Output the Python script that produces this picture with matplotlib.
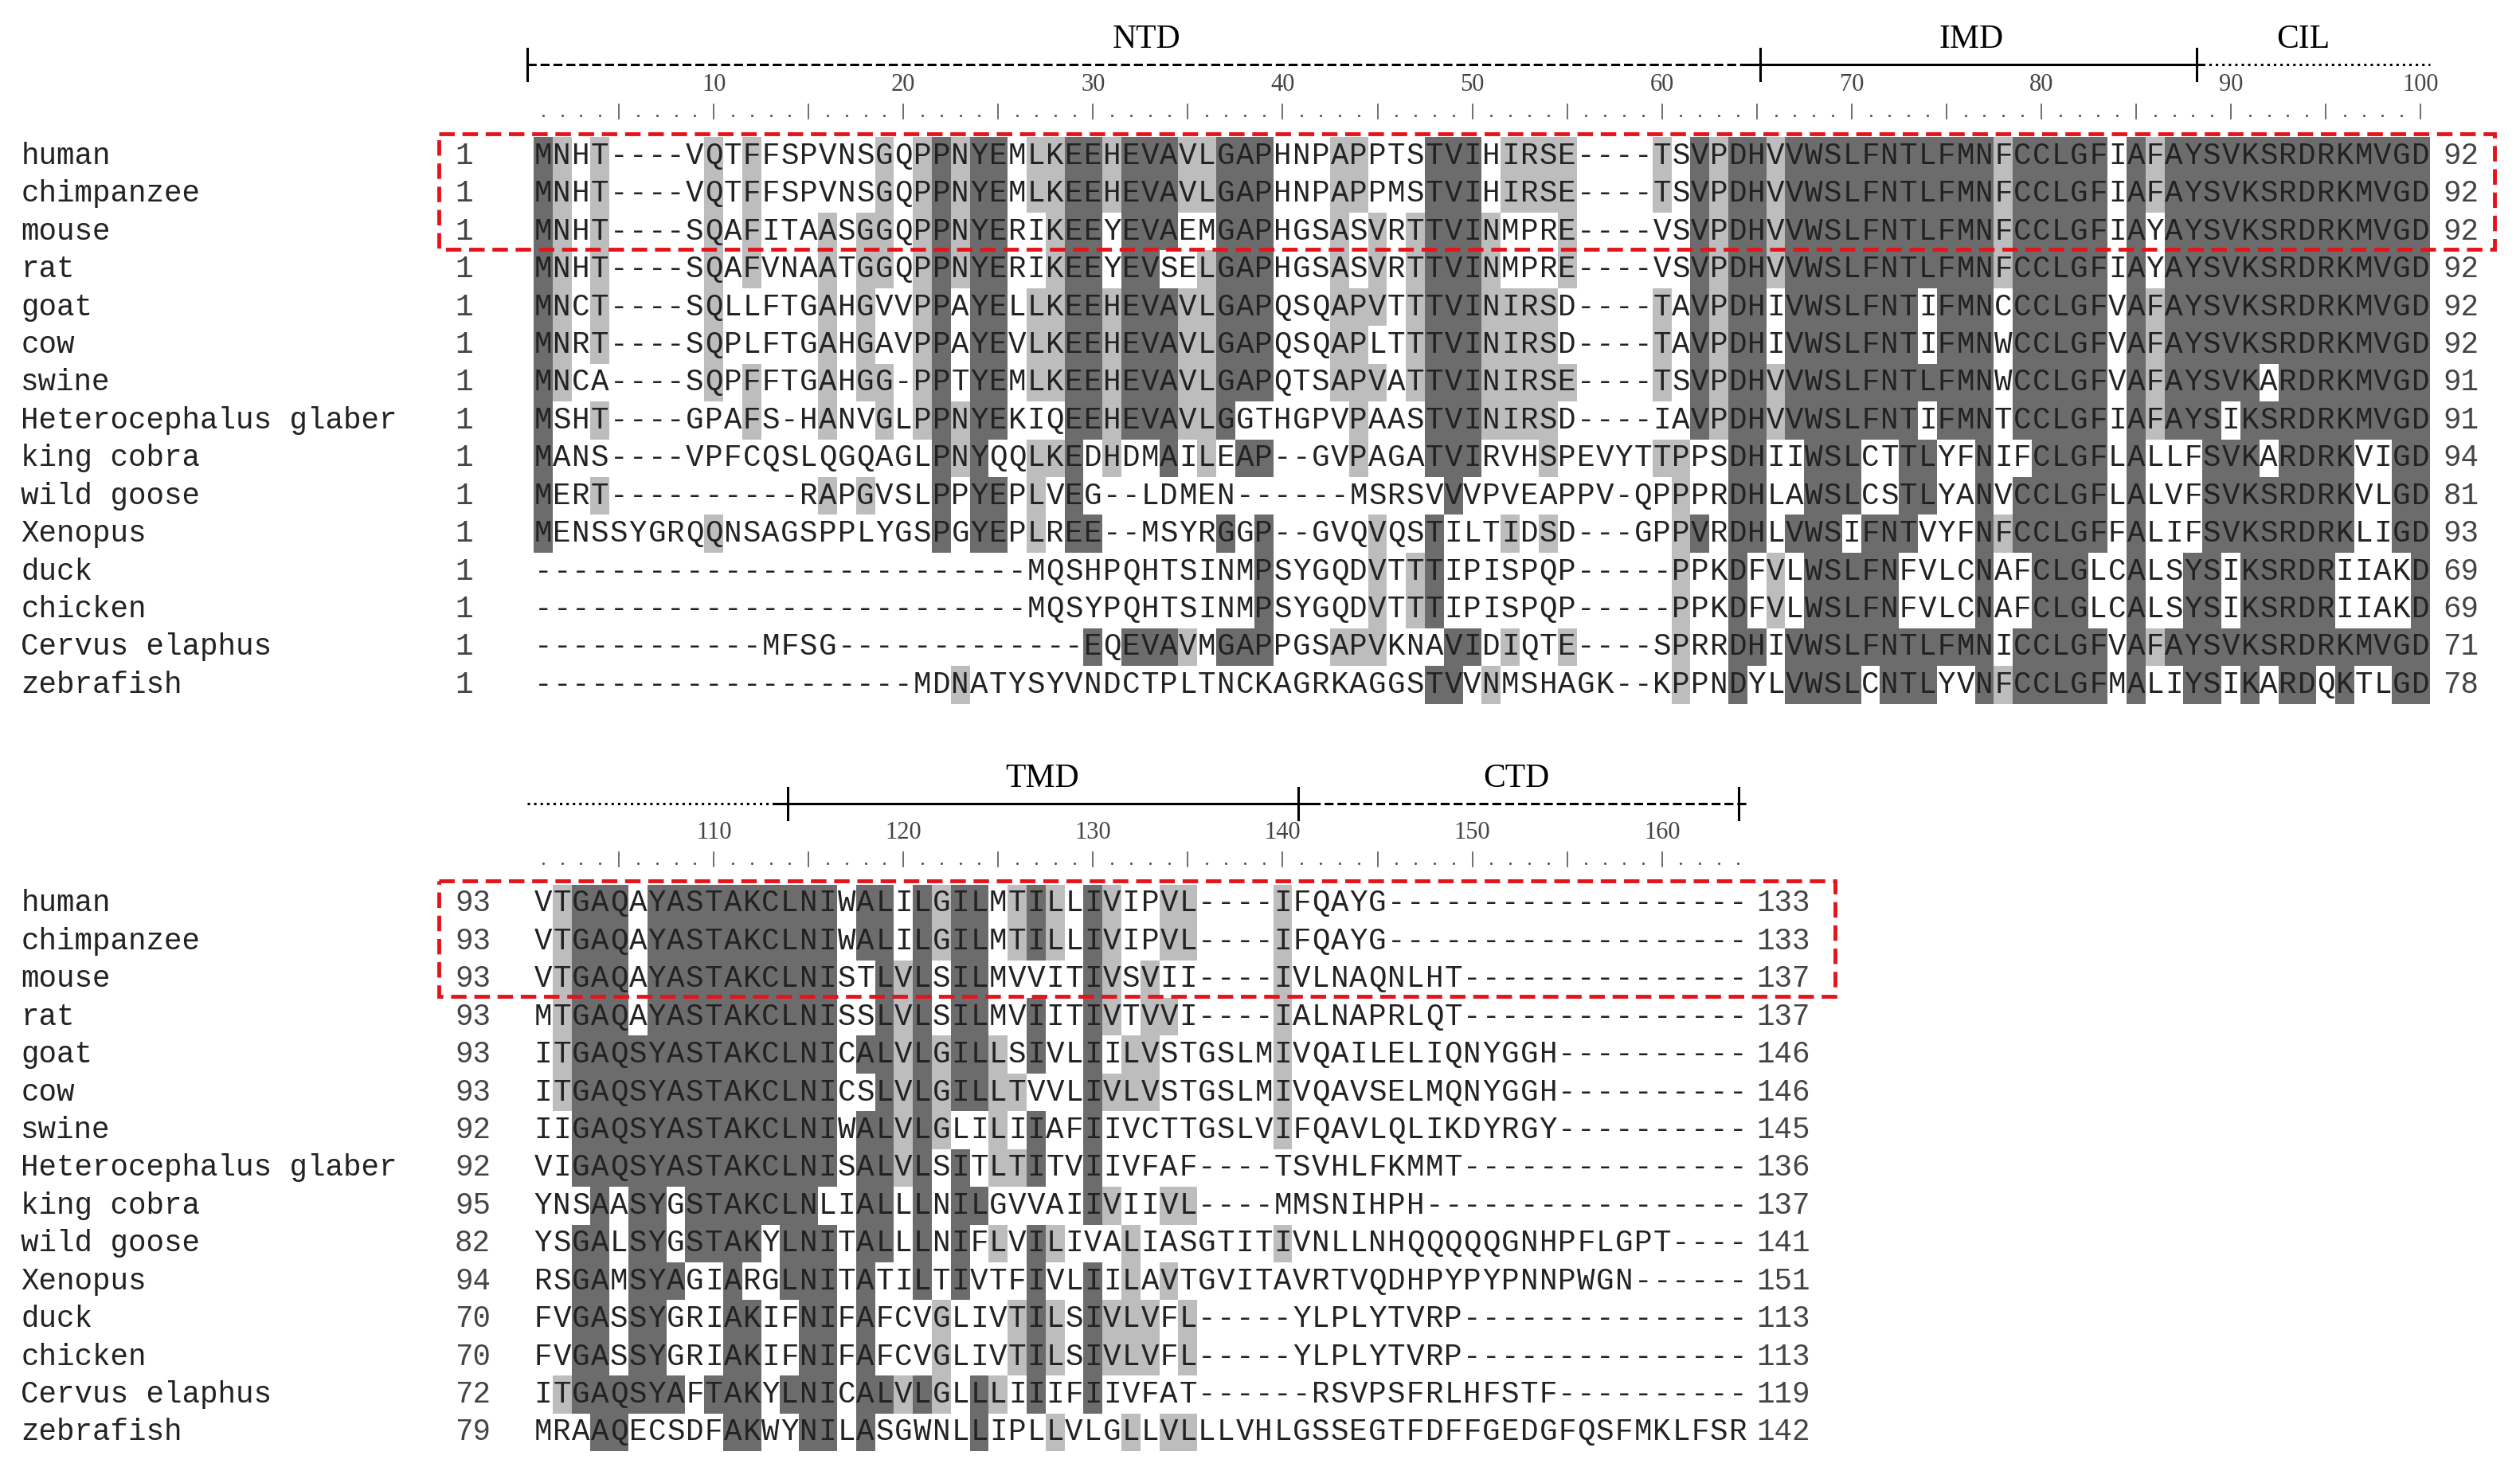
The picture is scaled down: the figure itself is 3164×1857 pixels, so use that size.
import matplotlib
matplotlib.use("Agg")
import matplotlib.pyplot as plt
from matplotlib.patches import Rectangle
from collections import Counter

species = ["human", "chimpanzee", "mouse", "rat", "goat", "cow", "swine",
           "Heterocephalus glaber", "king cobra", "wild goose", "Xenopus",
           "duck", "chicken", "Cervus elaphus", "zebrafish"]

seq_top = [
 "MNHT----VQTFFSPVNSGQPPNYEMLKEEHEVAVLGAPHNPAPPTSTVIHIRSE----TSVPDHVVWSLFNTLFMNFCCLGFIAFAYSVKSRDRKMVGD",
 "MNHT----VQTFFSPVNSGQPPNYEMLKEEHEVAVLGAPHNPAPPMSTVIHIRSE----TSVPDHVVWSLFNTLFMNFCCLGFIAFAYSVKSRDRKMVGD",
 "MNHT----SQAFITAASGGQPPNYERIKEEYEVAEMGAPHGSASVRTTVINMPRE----VSVPDHVVWSLFNTLFMNFCCLGFIAYAYSVKSRDRKMVGD",
 "MNHT----SQAFVNAATGGQPPNYERIKEEYEVSELGAPHGSASVRTTVINMPRE----VSVPDHVVWSLFNTLFMNFCCLGFIAYAYSVKSRDRKMVGD",
 "MNCT----SQLLFTGAHGVVPPAYELLKEEHEVAVLGAPQSQAPVTTTVINIRSD----TAVPDHIVWSLFNTIFMNCCCLGFVAFAYSVKSRDRKMVGD",
 "MNRT----SQPLFTGAHGAVPPAYEVLKEEHEVAVLGAPQSQAPLTTTVINIRSD----TAVPDHIVWSLFNTIFMNWCCLGFVAFAYSVKSRDRKMVGD",
 "MNCA----SQPFFTGAHGG-PPTYEMLKEEHEVAVLGAPQTSAPVATTVINIRSE----TSVPDHVVWSLFNTLFMNWCCLGFVAFAYSVKARDRKMVGD",
 "MSHT----GPAFS-HANVGLPPNYEKIQEEHEVAVLGGTHGPVPAASTVINIRSD----IAVPDHVVWSLFNTIFMNTCCLGFIAFAYSIKSRDRKMVGD",
 "MANS----VPFCQSLQGQAGLPNYQQLKEDHDMAILEAP--GVPAGATVIRVHSPEVYTTPPSDHIIWSLCTTLYFNIFCLGFLALLFSVKARDRKVIGD",
 "MERT----------RAPGVSLPPYEPLVEG--LDMEN------MSRSVVVPVEAPPV-QPPPRDHLAWSLCSTLYANVCCLGFLALVFSVKSRDRKVLGD",
 "MENSSYGRQQNSAGSPPLYGSPGYEPLREE--MSYRGGP--GVQVQSTILTIDSD---GPPVRDHLVWSIFNTVYFNFCCLGFFALIFSVKSRDRKLIGD",
 "--------------------------MQSHPQHTSINMPSYGQDVTTTIPISPQP-----PPKDFVLWSLFNFVLCNAFCLGLCALSYSIKSRDRIIAKD",
 "--------------------------MQSYPQHTSINMPSYGQDVTTTIPISPQP-----PPKDFVLWSLFNFVLCNAFCLGLCALSYSIKSRDRIIAKD",
 "------------MFSG-------------EQEVAVMGAPPGSAPVKNAVIDIQTE----SPRRDHIVWSLFNTLFMNICCLGFVAFAYSVKSRDRKMVGD",
 "--------------------MDNATYSYVNDCTPLTNCKAGRKAGGSTVVNMSHAGK--KPPNDYLVWSLCNTLYVNFCCLGFMALIYSIKARDQKTLGD",
]
seq_bot = [
 "VTGAQAYASTAKCLNIWALILGILMTILLIVIPVL----IFQAYG-------------------",
 "VTGAQAYASTAKCLNIWALILGILMTILLIVIPVL----IFQAYG-------------------",
 "VTGAQAYASTAKCLNISTLVLSILMVVITIVSVII----IVLNAQNLHT---------------",
 "MTGAQAYASTAKCLNISSLVLSILMVIITIVTVVI----IALNAPRLQT---------------",
 "ITGAQSYASTAKCLNICALVLGILLSIVLIILVSTGSLMIVQAILELIQNYGGH----------",
 "ITGAQSYASTAKCLNICSLVLGILLTVVLIVLVSTGSLMIVQAVSELMQNYGGH----------",
 "IIGAQSYASTAKCLNIWALVLGLILIIAFIIVCTTGSLVIFQAVLQLIKDYRGY----------",
 "VIGAQSYASTAKCLNISALVLSITLTITVIIVFAF----TSVHLFKMMT---------------",
 "YNSAASYGSTAKCLNLIALLLNILGVVAIIVIIVL----MMSNIHPH-----------------",
 "YSGALSYGSTAKYLNITALLLNIFLVILIVALIASGTITIVNLLNHQQQQQGNHPFLGPT----",
 "RSGAMSYAGIARGLNITATILTIVTFIVLIILAVTGVITAVRTVQDHPYPYPNNPWGN------",
 "FVGASSYGRIAKIFNIFAFCVGLIVTILSIVLVFL-----YLPLYTVRP---------------",
 "FVGASSYGRIAKIFNIFAFCVGLIVTILSIVLVFL-----YLPLYTVRP---------------",
 "ITGAQSYAFTAKYLNICALVLGLLLIIIFIIVFAT------RSVPSFRLHFSTF----------",
 "MRAAQECSDFAKWYNILASGWNLLIPLLVLGLLVLLLVHLGSSEGTFDFFGEDGFQSFMKLFSR",
]
start_top = ["1"] * 15
end_top = ["92", "92", "92", "92", "92", "92", "91", "91", "94", "81", "93", "69", "69", "71", "78"]
start_bot = ["93", "93", "93", "93", "93", "93", "92", "92", "95", "82", "94", "70", "70", "72", "79"]
end_bot = ["133", "133", "137", "137", "146", "146", "145", "136", "137", "141", "151", "113", "113", "119", "142"]
ruler_top = [10, 20, 30, 40, 50, 60, 70, 80, 90, 100]
ruler_bot = [110, 120, 130, 140, 150, 160]
domains_top = [("NTD", 1, 65, "dashed"), ("IMD", 65, 88, "solid"), ("CIL", 88, 100, "dotted")]
domains_bot = [("", 101, 114, "dotted"), ("TMD", 114, 141, "solid"), ("CTD", 141, 164, "dashed")]

W, H = 1568, 920
fig = plt.figure(figsize=(31.64, 18.57), dpi=100)
ax = fig.add_axes([0, 0, 1, 1])
ax.set_xlim(0, W); ax.set_ylim(H, 0); ax.axis("off")

X0, CW, RH = 332.0, 11.8, 23.5
MONO = "Liberation Mono"
FS = 27
DARK, LIGHT = "#6c6c6c", "#bdbdbd"

def colx(c):
    return X0 + (c - 0.5) * CW

def block(seqs, y0, starts, ends, end_x):
    n = len(seqs[0])
    for c in range(n):
        col = [s[c] for s in seqs]
        res = [r for r in col if r != "-"]
        if not res:
            continue
        top, cnt = Counter(res).most_common(1)[0]
        frac = cnt / len(seqs)
        for i, r in enumerate(col):
            if r == top and frac >= 0.34:
                color = DARK if frac >= 0.6 else LIGHT
                ax.add_patch(Rectangle((X0 + c * CW, y0 + i * RH - RH / 2), CW, RH,
                                       facecolor=color, edgecolor="none", zorder=1))
    for i, s in enumerate(seqs):
        y = y0 + i * RH
        ax.text(13, y, species[i], family=MONO, fontsize=FS, va="center", ha="left", color="#222")
        ax.text(283, y, starts[i], family=MONO, fontsize=FS, va="center", ha="left", color="#444")
        ax.text(end_x, y, ends[i], family=MONO, fontsize=FS, va="center", ha="left", color="#444")
        for c, ch in enumerate(s):
            ax.text(colx(c + 1), y, ch, family=MONO, fontsize=FS, va="center", ha="center",
                    color="#222", zorder=3)

def ruler(labels, offset, ncol, y):
    for c in range(1, ncol + 1):
        x = colx(c)
        if (c + offset) % 5 == 0:
            ax.plot([x, x], [y - 7, y + 2], color="#555", lw=1.2)
        else:
            ax.plot([x], [y], marker=".", ms=2.5, color="#555")
    for v in labels:
        ax.text(colx(v - offset), y - 12, str(v), family="Liberation Serif", fontsize=22,
                ha="center", va="bottom", color="#444")

def domains(doms, offset, y, caps):
    for name, a, b, ls in doms:
        xa = X0 + (a - 1 - offset) * CW - 4
        xb = X0 + (b - offset) * CW
        ax.plot([xa, xb], [y, y], color="black", lw=2.2, linestyle=ls)
        if name:
            ax.text((xa + xb) / 2, y - 6, name, family="Liberation Serif", fontsize=30,
                    ha="center", va="bottom")
    for cx in caps:
        ax.plot([cx, cx], [y - 10, y + 10], color="black", lw=2.2)

domains(domains_top, 0, 40, [328, 1095, 1367])
ruler(ruler_top, 0, 100, 72)
block(seq_top, 97, start_top, end_top, 1520)
domains(domains_bot, 100, 500, [490, 808, 1082])
ruler(ruler_bot, 100, 64, 537)
block(seq_bot, 562, start_bot, end_bot, 1093)

for (x1, y1, x2, y2) in [(273, 83, 1552, 155), (273, 548, 1142, 620)]:
    ax.add_patch(Rectangle((x1, y1), x2 - x1, y2 - y1, fill=False, edgecolor="#e3141b",
                           lw=3.5, linestyle=(0, (4, 2)), zorder=5))

fig.savefig("out.png", dpi=100)
